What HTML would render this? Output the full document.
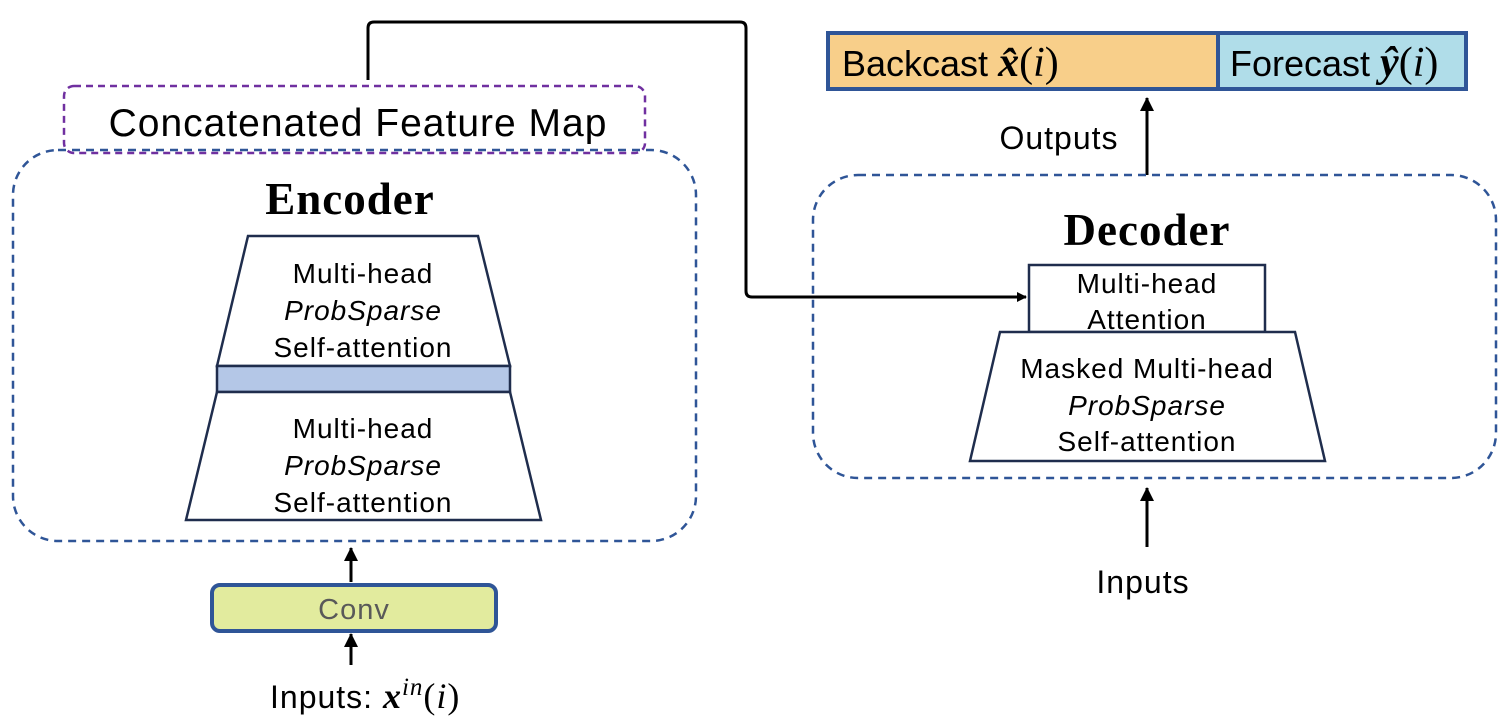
<!DOCTYPE html>
<html><head><style>body{margin:0;background:#fff}svg{display:block}</style></head><body>
<svg width="1510" height="726" viewBox="0 0 1510 726" xmlns="http://www.w3.org/2000/svg" font-family="Liberation Sans, DejaVu Sans, sans-serif">
<defs><marker id="a" markerWidth="10" markerHeight="10" refX="9" refY="5" orient="auto" markerUnits="userSpaceOnUse"><path d="M0,0 L10,5 L0,10 z" fill="#000"/></marker>
<marker id="b" markerWidth="14" markerHeight="14" refX="13" refY="7" orient="auto" markerUnits="userSpaceOnUse"><path d="M0,0 L14,7 L0,14 z" fill="#000"/></marker></defs>
<rect x="64" y="86" width="581" height="67" rx="10" fill="none" stroke="#7030a0" stroke-width="2.5" stroke-dasharray="7,5"/>
<text x="358" y="136" font-size="39" letter-spacing="1" text-anchor="middle">Concatenated Feature Map</text>
<rect x="13" y="150" width="683" height="391" rx="45" fill="none" stroke="#2f5597" stroke-width="2.5" stroke-dasharray="8,6"/>
<text x="350" y="214" font-size="45" letter-spacing="1" font-weight="bold" font-family="Liberation Serif, serif" text-anchor="middle">Encoder</text>
<polygon points="248,236 478,236 510,366 217,366" fill="#fff" stroke="#1f2d4d" stroke-width="2.5"/>
<rect x="217" y="366" width="293" height="26" fill="#b4c7e7" stroke="#1f2d4d" stroke-width="2.5"/>
<polygon points="217,392 510,392 541,520 186,520" fill="#fff" stroke="#1f2d4d" stroke-width="2.5"/>
<rect x="1029" y="265" width="236" height="67" fill="#fff" stroke="#1f2d4d" stroke-width="2.5"/>
<polygon points="1000,332 1295,332 1325,461 970,461" fill="#fff" stroke="#1f2d4d" stroke-width="2.5"/>
<g font-size="28" letter-spacing="1" text-anchor="middle">
<text x="363" y="283">Multi-head</text><text x="363" y="320" font-style="italic">ProbSparse</text><text x="363" y="357">Self-attention</text>
<text x="363" y="438">Multi-head</text><text x="363" y="475" font-style="italic">ProbSparse</text><text x="363" y="512">Self-attention</text>
<text x="1147" y="293">Multi-head</text><text x="1147" y="329">Attention</text>
<text x="1147" y="378">Masked Multi-head</text><text x="1147" y="415" font-style="italic">ProbSparse</text><text x="1147" y="451">Self-attention</text>
</g>
<line x1="351" y1="582" x2="351" y2="548" stroke="#000" stroke-width="3" marker-end="url(#b)"/>
<rect x="212" y="585" width="284" height="46" rx="8" fill="#e2eb9e" stroke="#2f5597" stroke-width="4"/>
<text x="354" y="619" font-size="29" letter-spacing="1" fill="#595959" text-anchor="middle">Conv</text>
<line x1="351" y1="665" x2="351" y2="634" stroke="#000" stroke-width="3" marker-end="url(#b)"/>
<text x="270" y="708" font-size="32" letter-spacing="1">Inputs: <tspan font-family="Liberation Serif, serif" font-weight="bold" font-style="italic" font-size="36">x</tspan><tspan font-family="Liberation Serif, serif" font-style="italic" font-size="25" dy="-13">in</tspan><tspan font-family="Liberation Serif, serif" font-size="36" dy="13">(</tspan><tspan font-family="Liberation Serif, serif" font-style="italic" font-size="36">i</tspan><tspan font-family="Liberation Serif, serif" font-size="36">)</tspan></text>
<path d="M368,80 L368,28 Q368,22 374,22 L740,22 Q746,22 746,28 L746,291 Q746,297 752,297 L1026,297" fill="none" stroke="#000" stroke-width="3" marker-end="url(#a)"/>
<rect x="828" y="33" width="390" height="56" fill="#f8cf8a" stroke="#2f5597" stroke-width="4"/>
<rect x="1218" y="33" width="248" height="56" fill="#b0dde9" stroke="#2f5597" stroke-width="4"/>
<text x="842" y="76" font-size="36">Backcast <tspan font-family="Liberation Serif, serif" font-weight="bold" font-style="italic" font-size="42">x̂</tspan><tspan font-family="Liberation Serif, serif" font-size="42">(<tspan font-style="italic">i</tspan>)</tspan></text>
<text x="1230" y="76" font-size="36">Forecast <tspan font-family="Liberation Serif, serif" font-weight="bold" font-style="italic" font-size="42">ŷ</tspan><tspan font-family="Liberation Serif, serif" font-size="42">(<tspan font-style="italic">i</tspan>)</tspan></text>
<text x="1059" y="149" font-size="32" letter-spacing="1" text-anchor="middle">Outputs</text>
<line x1="1147" y1="175" x2="1147" y2="98" stroke="#000" stroke-width="3" marker-end="url(#b)"/>
<rect x="813" y="175" width="683" height="303" rx="45" fill="none" stroke="#2f5597" stroke-width="2.5" stroke-dasharray="8,6"/>
<text x="1147" y="245" font-size="45" letter-spacing="1" font-weight="bold" font-family="Liberation Serif, serif" text-anchor="middle">Decoder</text>
<line x1="1147" y1="547" x2="1147" y2="488" stroke="#000" stroke-width="3" marker-end="url(#b)"/>
<text x="1143" y="593" font-size="32" letter-spacing="1" text-anchor="middle">Inputs</text>
</svg>
</body></html>
